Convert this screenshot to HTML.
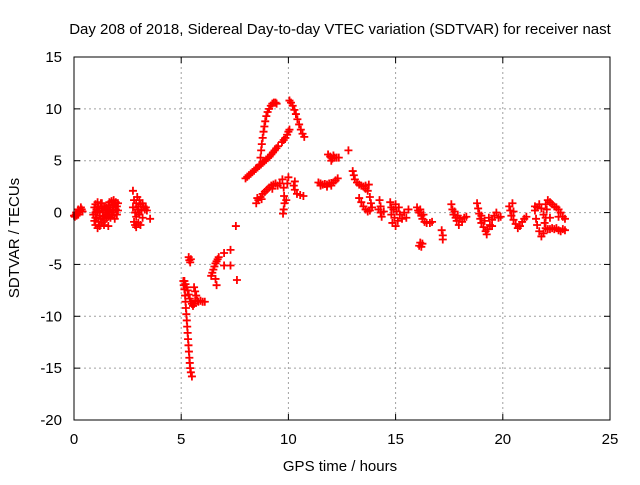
<!DOCTYPE html>
<html><head><meta charset="utf-8"><style>
body{margin:0;background:#fff}
svg text{font-family:"Liberation Sans",sans-serif;font-size:15px;fill:#000}
</style></head><body>
<svg id="chart" width="640" height="480" viewBox="0 0 640 480" xmlns="http://www.w3.org/2000/svg">
<rect width="640" height="480" fill="#fff"/>
<g id="grid"></g>
<g id="ticks"></g>
<g id="marks"></g>
<rect x="74" y="57" width="536" height="363" fill="none" stroke="#000" stroke-width="1"/>
<text x="340" y="34" text-anchor="middle">Day 208 of 2018, Sidereal Day-to-day VTEC variation (SDTVAR) for receiver nast</text>
<text x="340" y="471" text-anchor="middle">GPS time / hours</text>
<text transform="translate(19,238) rotate(-90)" text-anchor="middle">SDTVAR / TECUs</text>
</svg>
<script>
const xTicks=[0,5,10,15,20,25];
const yTicks=[-20,-15,-10,-5,0,5,10,15];
const points=[
[0,-0.3],[0.04,-0.4],[0.08,-0.2],[0.12,-0.3],[0.16,0],[0.2,-0.2],[0.24,0.1],[0.28,0.2],[0.32,0.5],[0.36,0.3],[0.4,0.1],[0.2,0.3],[0.1,0],
[0.9,-0.2],[0.95,0.5],[0.95,-0.8],[1.0,0.8],[1.0,0],[1.0,-1.2],[1.05,0.3],[1.05,-0.5],[1.1,1.0],[1.1,-1.5],[1.1,0.1],[1.15,0.6],[1.15,-0.9],[1.2,0.2],[1.2,-0.3],[1.2,-1.3],[1.25,0.9],[1.25,-0.6],[1.3,0.4],[1.3,-1.0],[1.35,0],[1.35,-0.4],[1.4,0.6],[1.4,-0.8],[1.45,0.2],[1.45,-0.3],[1.5,0],[1.5,-0.6],[1.5,0.5],[1.55,-0.2],[1.55,0.3],[1.6,0.7],[1.6,-0.4],[1.65,1.0],[1.65,0.1],[1.7,0.5],[1.7,-0.5],[1.75,1.1],[1.75,0],[1.8,0.7],[1.8,-0.3],[1.85,1.2],[1.85,0.2],[1.9,0.8],[1.9,-0.6],[1.95,1.0],[1.95,0.3],[2.0,0.6],[2.0,-0.2],[2.05,0.9],[2.05,0.2],[1.3,0.9],[1.0,-0.5],[1.4,-1.2],[1.6,-1.3],
[2.75,2.1],[2.75,0.5],[2.8,-0.9],[2.8,1.2],[2.85,0],[2.85,-1.2],[2.9,0.9],[2.9,-0.4],[2.95,1.5],[2.95,0.3],[3.0,-1.0],[3.0,0.6],[3.05,1.2],[3.05,-0.2],[3.1,0.8],[3.1,-1.2],[3.15,0.2],[3.2,0.9],[3.2,-0.5],[3.25,0.6],[3.3,0.3],[3.35,0.5],[3.4,0.2],[3.55,-0.6],[3.0,0],[2.9,-1.4],
[5.1,-6.6],[5.12,-7.0],[5.15,-7.4],[5.18,-8.0],[5.2,-8.6],[5.22,-9.2],[5.24,-9.8],[5.26,-10.4],[5.28,-11.0],[5.3,-11.6],[5.32,-12.2],[5.34,-12.8],[5.36,-13.4],[5.38,-14.0],[5.4,-14.5],[5.42,-15.0],[5.45,-15.4],[5.5,-15.8],
[5.15,-6.6],[5.2,-6.9],[5.25,-7.2],[5.3,-7.5],[5.35,-7.9],[5.4,-8.3],[5.45,-8.6],[5.5,-8.8],[5.55,-9.0],[5.6,-8.8],[5.65,-8.5],[5.6,-7.2],[5.65,-7.6],[5.7,-8.0],[5.75,-8.5],[5.8,-8.6],[5.9,-8.5],[6.0,-8.6],[6.1,-8.6],[5.35,-4.3],[5.38,-4.6],[5.42,-4.8],[5.45,-4.5],
[6.4,-6.1],[6.45,-5.8],[6.5,-5.5],[6.55,-5.2],[6.6,-4.9],[6.65,-4.7],[6.7,-4.5],[6.75,-4.3],[6.6,-6.4],[6.65,-7.0],[7.0,-5.1],[7.0,-3.9],[7.3,-3.6],[7.3,-5.1],[7.6,-6.5],[7.55,-1.3],
[8.0,3.3],[8.08,3.45],[8.16,3.6],[8.24,3.75],[8.32,3.9],[8.4,4.05],[8.48,4.2],[8.56,4.35],[8.64,4.5],[8.72,4.65],[8.8,4.8],[8.88,4.95],[8.96,5.1],[9.04,5.25],[9.12,5.4],[9.2,5.6],[9.28,5.8],[9.36,6.0],[9.44,6.2],[9.52,6.4],[9.7,6.8],[9.78,7.0],[9.86,7.2],[9.94,7.5],[10.0,7.8],[10.05,8.0],
[8.65,4.6],[8.7,5.3],[8.73,6.0],[8.76,6.6],[8.8,7.2],[8.84,7.8],[8.88,8.3],[8.92,8.8],[8.97,9.3],[9.03,9.7],[9.1,10.0],[9.18,10.3],[9.25,10.5],[9.32,10.6],[9.4,10.6],[9.45,10.5],
[10.05,10.8],[10.12,10.6],[10.2,10.3],[10.28,9.9],[10.35,9.5],[10.42,9.0],[10.5,8.5],[10.58,8.0],[10.66,7.6],[10.74,7.3],
[8.5,0.9],[8.6,1.2],[8.7,1.5],[8.8,1.8],[8.9,2.0],[9.0,2.2],[9.1,2.4],[9.2,2.6],[9.3,2.7],[9.4,2.8],[9.5,2.6],[9.6,2.8],[8.55,1.4],[8.75,1.3],[9.25,2.3],
[9.72,3.2],[9.78,2.4],[9.8,1.6],[9.82,0.9],[9.78,0.3],[9.75,-0.1],[9.9,1.2],[9.95,2.8],[10.0,3.4],[10.25,2.6],[10.3,2.2],[10.4,1.8],[10.55,1.7],[10.7,1.6],[10.3,3.0],
[11.4,2.9],[11.5,2.8],[11.6,2.7],[11.7,2.75],[11.8,2.7],[11.9,2.8],[12.0,2.85],[12.1,2.9],[12.2,3.1],[12.3,3.3],[11.5,2.6],[11.8,2.5],[12.0,2.6],
[11.85,5.6],[11.95,5.4],[12.05,5.2],[12.15,5.3],[12.25,5.3],[12.35,5.3],[12.0,5.0],[12.1,5.5],[12.8,6.0],
[13.0,4.0],[13.05,3.6],[13.1,3.2],[13.2,2.9],[13.3,2.7],[13.4,2.6],[13.5,2.5],[13.6,2.3],[13.7,2.1],[13.8,1.5],[13.85,0.9],[13.3,1.4],[13.4,1.0],[13.5,0.6],[13.6,0.3],[13.7,0.1],[13.8,0.2],[13.9,0.5],[13.6,2.6],[13.75,2.7],
[14.25,1.2],[14.3,0.6],[14.3,0],[14.35,-0.4],[14.2,0.3],[14.45,0.1],
[14.75,1.0],[14.8,0.5],[14.8,-0.2],[14.85,-1.0],[14.9,0.3],[14.95,-0.5],[15.0,-1.3],[15.05,0.1],[15.1,-0.8],[15.15,0.5],[15.2,-0.2],[15.0,0.8],[15.3,-0.6],[15.4,0],[15.5,-0.5],[15.6,0.3],
[16.0,0.5],[16.05,0.2],[16.1,0],[16.15,0.3],[16.2,-0.3],[16.25,-0.6],[16.35,-0.9],[16.45,-1.0],[16.3,-0.2],[16.1,-3.2],[16.15,-2.9],[16.2,-3.3],[16.25,-3.0],
[17.15,-1.7],[17.2,-2.2],[17.2,-2.6],[16.6,-1.0],[16.7,-0.9],
[17.6,0.8],[17.65,0.3],[17.7,-0.2],[17.75,0.1],[17.8,-0.5],[17.85,-0.8],[17.9,-0.3],[18.0,-0.6],[18.1,-0.9],[18.2,-0.5],[18.3,-0.4],[17.95,-1.2],
[18.8,0.9],[18.85,0.4],[18.9,-0.1],[18.95,-0.6],[19.0,-1.0],[19.1,-1.4],[19.2,-1.8],[19.25,-2.1],[19.3,-1.6],[19.4,-1.2],[19.5,-0.7],[19.6,-0.3],[19.7,0],[19.8,-0.5],[19.9,-0.4],[19.0,-0.3],[19.15,-0.8],[19.35,-0.5],[19.5,-1.3],
[20.3,0.6],[20.35,0.2],[20.4,-0.3],[20.5,-0.7],[20.6,-1.1],[20.7,-1.5],[20.8,-1.3],[20.9,-0.9],[21.0,-0.6],[21.1,-0.4],[20.5,0.1],[20.45,0.9],
[21.5,0.2],[21.55,-0.6],[21.6,-1.2],[21.7,-1.8],[21.8,-2.3],[21.9,-2.0],[21.5,0.6],[21.6,0.5],[21.7,0.8],[21.8,0.4],[21.9,-0.2],[22.0,0.8],[22.1,1.2],[22.2,1.0],[22.3,0.8],[22.4,0.6],[22.5,0.5],[22.6,0.3],[22.7,0],[22.8,-0.4],[22.9,-0.6],[22.0,-1.5],[22.1,-1.6],[22.2,-1.6],[22.3,-1.5],[22.4,-1.6],[22.5,-1.5],[22.6,-1.7],[22.7,-1.8],[22.8,-1.6],[22.9,-1.7],[22.0,-0.5],[22.05,0.3],[21.95,-1.0],[22.6,-0.4],[22.2,-0.5]
];
const NS='http://www.w3.org/2000/svg';
const X0=74,X1=610,Y0=420,Y1=57;
function xs(h){return X0+(h-0)/(25-0)*(X1-X0);}
function ys(v){return Y0-(v+20)/(35)*(Y0-Y1);}
function mk(tag,attrs,parent){const e=document.createElementNS(NS,tag);for(const k in attrs)e.setAttribute(k,attrs[k]);parent.appendChild(e);return e;}
const grid=document.getElementById('grid'),ticks=document.getElementById('ticks'),marks=document.getElementById('marks');
xTicks.forEach(t=>{
  const x=xs(t);
  if(t>0&&t<25){const g=mk('line',{x1:x,x2:x,y1:Y1,y2:Y0,stroke:'#a0a0a0','stroke-dasharray':'2,3'},grid);
  
  }
  mk('line',{x1:x,x2:x,y1:Y0,y2:Y0-6,stroke:'#000'},ticks);
  mk('line',{x1:x,x2:x,y1:Y1,y2:Y1+6,stroke:'#000'},ticks);
  const l=mk('text',{x:x,y:Y0+24,'text-anchor':'middle'},ticks);l.textContent=t;
  
  
});
yTicks.forEach(t=>{
  const y=ys(t);
  if(t>-20&&t<15){const g=mk('line',{x1:X0,x2:X1,y1:y,y2:y,stroke:'#a0a0a0','stroke-dasharray':'2,3'},grid);
  
  }
  mk('line',{x1:X0,x2:X0+6,y1:y,y2:y,stroke:'#000'},ticks);
  mk('line',{x1:X1,x2:X1-6,y1:y,y2:y,stroke:'#000'},ticks);
  const l=mk('text',{x:X0-12,y:y+5,'text-anchor':'end'},ticks);l.textContent=t;
  
  
});
points.forEach(p=>{
  const x=xs(p[0]),y=ys(p[1]);
  const m=mk('path',{d:`M${x-4},${y}H${x+4}M${x},${y-4}V${y+4}`,stroke:'#ff0000','stroke-width':'1.8',fill:'none'},marks);
  
  
});
</script>
</body></html>
